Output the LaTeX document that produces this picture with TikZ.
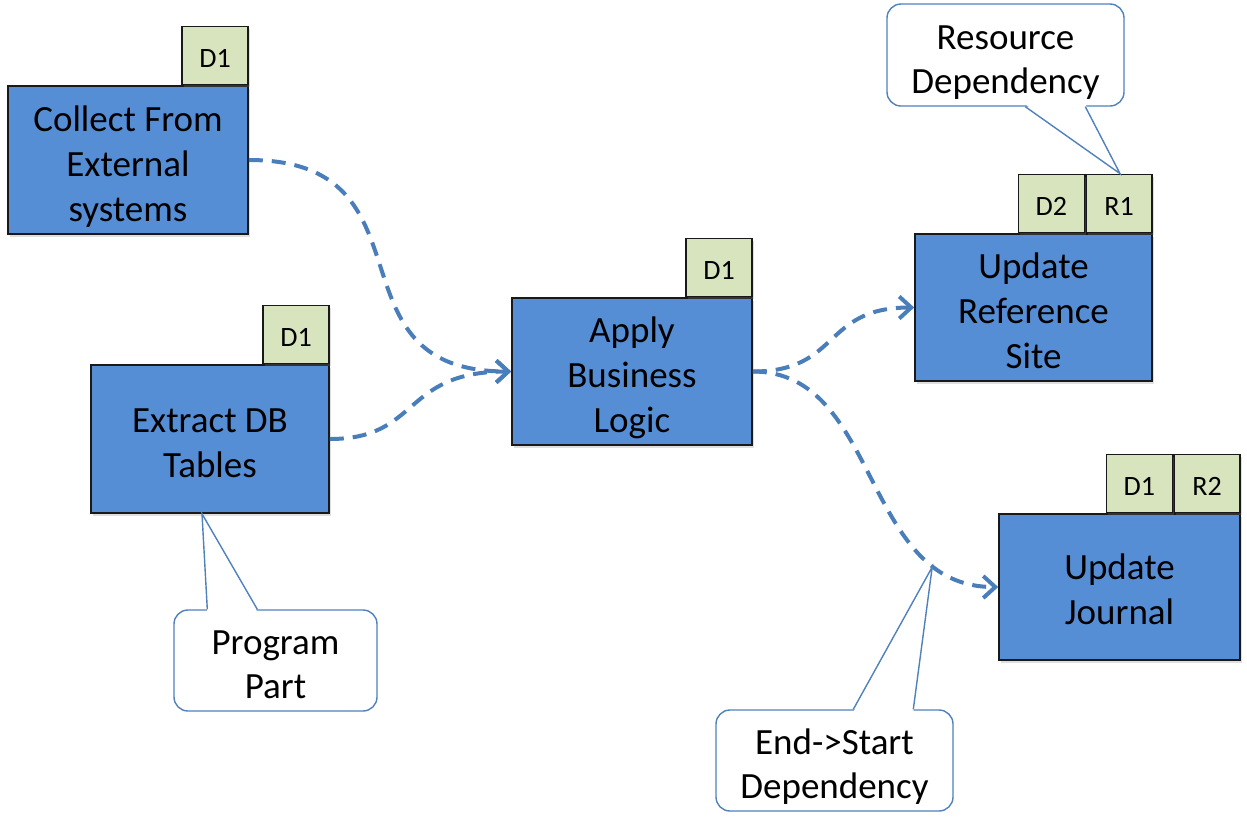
\documentclass[tikz,border=0pt]{standalone}
\usepackage{fontspec}
\setmainfont{Carlito}
\usetikzlibrary{arrows.meta,shadows,calc}
\definecolor{boxblue}{HTML}{558ED5}
\definecolor{tagfill}{HTML}{D7E4BD}
\definecolor{linkblue}{HTML}{4A7EBB}
\definecolor{callblue}{HTML}{4F81BD}
% lower the ink of a block of centred lines without changing its box
\newcommand{\txtdown}[2]{\raisebox{-#1}[\height][\depth]{\begin{tabular}{@{}c@{}}#2\end{tabular}}}
\begin{document}
\begin{tikzpicture}[x=1pt,y=-1pt,
  task/.style={draw=black!90, line width=1.6pt, fill=boxblue, inner sep=0pt, align=center,
    font=\fontsize{37}{45}\selectfont,
    drop shadow={shadow xshift=2pt,shadow yshift=-3pt,opacity=0.25}},
  tagbox/.style={draw=black!90, line width=1.6pt, fill=tagfill, minimum width=66pt,
    minimum height=58pt, inner sep=0pt, font=\fontsize{28}{32}\selectfont,
    drop shadow={shadow xshift=2pt,shadow yshift=-3pt,opacity=0.25}},
  link/.style={draw=linkblue, line width=4pt, dash pattern=on 14pt off 9pt,
    -{Straight Barb[length=12pt,width=22pt]}},
  callout/.style={draw=callblue, line width=1.4pt, fill=white, rounded corners=14pt,
    inner sep=0pt, align=center, font=\fontsize{37}{44}\selectfont},
  pointer/.style={draw=callblue, line width=1.4pt},
]
\useasboundingbox (0,0) rectangle (1247,823);

% task boxes
\node[task, minimum width=240pt, minimum height=148pt] (collect) at (128,160) {\txtdown{7pt}{Collect From\\External\\systems}};
\node[tagbox, anchor=south east] (collectD) at (collect.north east) {\txtdown{6pt}{D1}};

\node[task, minimum width=238pt, minimum height=148pt] (extract) at (210,439) {\txtdown{7pt}{Extract DB\\Tables}};
\node[tagbox, anchor=south east] (extractD) at (extract.north east) {\txtdown{6pt}{D1}};

\node[task, minimum width=240pt, minimum height=147pt] (apply) at (632,371.5) {\txtdown{7pt}{Apply\\Business\\Logic}};
\node[tagbox, anchor=south east] (applyD) at (apply.north east) {\txtdown{6pt}{D1}};

\node[task, minimum width=237pt, minimum height=147pt] (update) at (1033.5,307.5) {\txtdown{7pt}{Update\\Reference\\Site}};
\node[tagbox, anchor=south east] (updateR) at (update.north east) {\txtdown{6pt}{R1}};
\node[tagbox, anchor=south east] (updateD) at (updateR.south west) {\txtdown{6pt}{D2}};

\node[task, minimum width=241pt, minimum height=146pt] (journal) at (1119.5,587) {\txtdown{6pt}{Update\\Journal}};
\node[tagbox, anchor=south east] (journalR) at (journal.north east) {\txtdown{6pt}{R2}};
\node[tagbox, anchor=south east] (journalD) at (journalR.south west) {\txtdown{6pt}{D1}};

% connectors
\draw[link] (collect.east) .. controls +(192,0) and +(-190,0) .. (apply.west);
\draw[link] (extract.east) .. controls +(91,0) and +(-110,0) .. (apply.west);
\draw[link] (apply.east) .. controls +(88,0) and +(-92,0) .. (update.west);
\draw[link] (apply.east) .. controls +(128,0) and +(-137,0) .. (journal.west);

% callout: Program Part
\node[callout, minimum width=203pt, minimum height=101pt] (pp) at (275.5,660.5) {\txtdown{7pt}{Program\\Part}};
\coordinate (ppTip) at ([xshift=-8pt]extract.south);
\fill[white] ($(pp.north west)+(34,2.5)$) -- (ppTip) -- ($(pp.north west)+(84,2.5)$) -- cycle;
\draw[pointer] ($(pp.north west)+(34,0)$) -- (ppTip) -- ($(pp.north west)+(84,0)$);

% callout: Resource Dependency
\node[callout, minimum width=237pt, minimum height=102pt] (rd) at (1005.5,55) {\txtdown{8pt}{Resource\\Dependency}};
\coordinate (rdTip) at ([xshift=1pt]updateR.north);
\fill[white] ($(rd.south west)+(139,-2.5)$) -- (rdTip) -- ($(rd.south west)+(199,-2.5)$) -- cycle;
\draw[pointer] ($(rd.south west)+(139,0)$) -- (rdTip) -- ($(rd.south west)+(199,0)$);

% callout: End->Start Dependency
\node[callout, minimum width=237pt, minimum height=101pt] (es) at (834.5,760.5) {\txtdown{7pt}{End->Start\\Dependency}};
\coordinate (esTip) at ($(journal.west)+(-66,-20)$);
\fill[white] ($(es.north west)+(138,2.5)$) -- (esTip) -- ($(es.north west)+(198,2.5)$) -- cycle;
\draw[pointer] ($(es.north west)+(138,0)$) -- (esTip) -- ($(es.north west)+(198,0)$);
\end{tikzpicture}
\end{document}
